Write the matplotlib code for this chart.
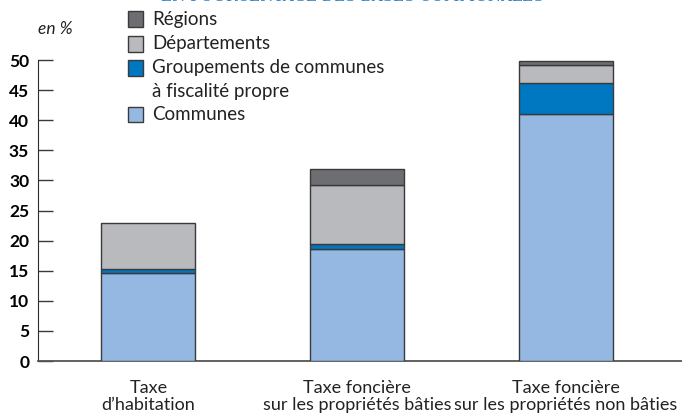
import matplotlib.pyplot as plt
from matplotlib.patches import Rectangle
import numpy as np

plt.rcParams["font.family"] = ["Lato", "DejaVu Sans"]

categories = ["Taxe\nd\u2019habitation",
              "Taxe foncière\nsur les propriétés bâties",
              "Taxe foncière\nsur les propriétés non bâties"]
communes = [14.6, 18.6, 41.0]
groupements = [0.7, 0.9, 5.1]
departements = [7.6, 9.7, 3.0]
regions = [0.0, 2.7, 0.8]

series_labels = ["Communes", "Groupements de communes\nà fiscalité propre",
                 "Départements", "Régions"]
series_colors = ["#95b8e2", "#0077c1", "#b9babe", "#6d6e72"]
yticks = [0, 5, 10, 15, 20, 25, 30, 35, 40, 45, 50]

W, H = 682, 413
fig = plt.figure(figsize=(W / 100, H / 100), dpi=100)
ax = fig.add_axes([37.5 / W, (H - 361) / H, 1 - 37.5 / W, 301 / H])

x = np.arange(len(categories))
bottom = np.zeros(len(categories))
for vals, col in zip([communes, groupements, departements, regions], series_colors):
    vals = np.array(vals)
    mask = vals > 0
    ax.bar(x[mask], vals[mask], bottom=bottom[mask], width=0.45, color=col,
           edgecolor="#3a3a3a", linewidth=1.0, zorder=3)
    bottom += vals

ax.set_xlim(-0.531, 2.555)
ax.set_ylim(0, 50)
ax.set_yticks(yticks)
ax.set_yticklabels([str(t) for t in yticks], fontweight="bold", fontsize=12.5)
ax.tick_params(axis="y", direction="in", length=11, width=1, color="#3a3a3a",
               pad=6)
ax.set_xticks([])
for s in ["top", "right"]:
    ax.spines[s].set_visible(False)
ax.spines["left"].set_color("#2a2a2a")
ax.spines["bottom"].set_color("#555555")
ax.spines["bottom"].set_linewidth(1.3)

for xi, lab in zip(x, categories):
    ax.text(xi, -3.1, lab, ha="center", va="top", fontsize=13,
            color="#222222", linespacing=1.1)

# title (clipped at the top)
fig.text(352 / W, 1 + 3 / H, "EN POURCENTAGE DES BASES COMMUNALES",
         ha="center", va="center", fontsize=11, color="#2a7fc4",
         family="DejaVu Serif")

fig.text(55 / W, 1 - 29 / H, "en %", ha="center", va="center",
         fontsize=12.5, style="italic", color="#222222")

# legend drawn by hand, top entry first
rows = [19, 44, 68, 114]
for yy, lab, col in zip(rows, series_labels[::-1], series_colors[::-1]):
    fig.patches.append(Rectangle((128 / W, 1 - (yy + 7.5) / H), 15 / W, 15 / H,
                                 transform=fig.transFigure, facecolor=col,
                                 edgecolor="#3a3a3a", linewidth=1.0))
    for k, line in enumerate(lab.split("\n")):
        fig.text(152 / W, 1 - (yy + 23 * k) / H, line, ha="left", va="center",
                 fontsize=13.5, color="#222222")

fig.savefig("out.png", dpi=100)
